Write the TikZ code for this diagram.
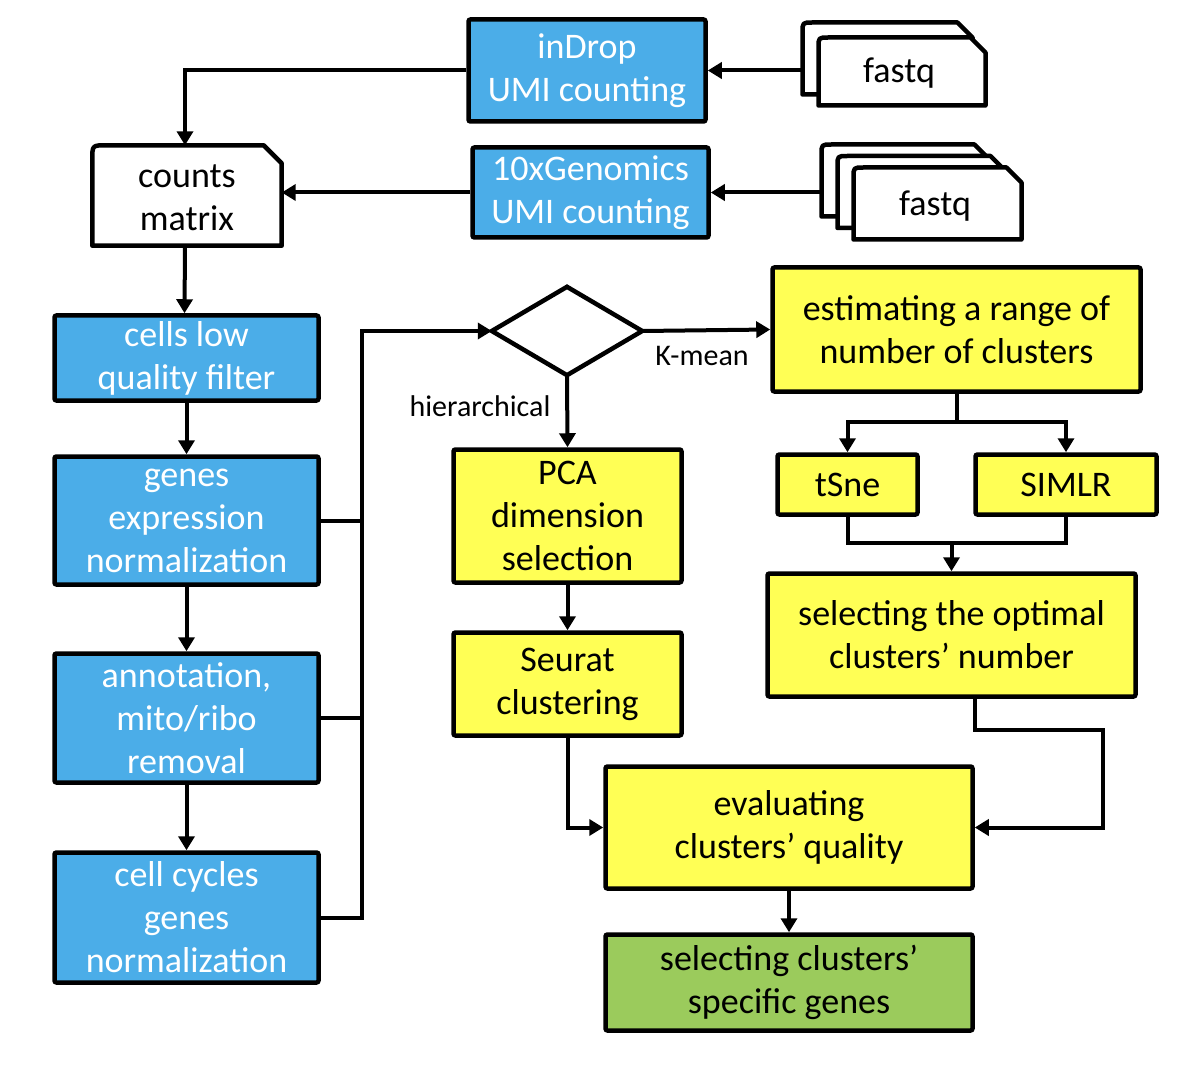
\documentclass[tikz,border=0pt]{standalone}
\usepackage{fontspec}
\setmainfont{Carlito}
\usetikzlibrary{arrows.meta,calc}
\definecolor{myblue}{HTML}{4BADE8}
\definecolor{myyellow}{HTML}{FFFF55}
\definecolor{mygreen}{HTML}{9BCB5C}
\begin{document}
\begin{tikzpicture}[x=1pt,y=-1pt,
  box/.style={draw=black, line width=4.5pt, rounded corners=2pt, inner sep=0pt, align=center,
    font=\fontsize{36}{43}\selectfont},
  bluebox/.style={box, fill=myblue, text=white},
  yelbox/.style={box, fill=myyellow},
  grnbox/.style={box, fill=mygreen},
  ghost/.style={inner sep=0pt, align=center, font=\fontsize{36}{43}\selectfont},
  shapeline/.style={draw=black, fill=white, line width=4.5pt, line join=round},
  conn/.style={draw=black, line width=4pt},
  arr/.style={conn, -{Triangle[length=14pt,width=16pt]}},
  lbl/.style={inner sep=0pt, font=\fontsize{30}{34}\selectfont}
]
\useasboundingbox (0,0) rectangle (1181,1067);

% ---------- cards (fastq) ----------
\newcommand{\card}[4]{% x1 y1 x2 y2 (path centre)
  \path[shapeline] (#1,#4) -- (#1,#2+10) .. controls (#1,#2) .. (#1+10,#2) -- (#3-15,#2) -- (#3,#2+15) -- (#3,#4) -- cycle;}

\card{802.5}{22.5}{972.5}{94.5}
\card{818.5}{37.5}{985.5}{105.5}
\node[ghost, minimum width=170pt, minimum height=72pt] (fq1b) at (887.5,58.5) {};
\node[ghost] (fq1) at (899,73) {fastq};

\card{821.5}{144.5}{989.5}{216.5}
\card{837.5}{156}{1005.5}{228}
\card{853.5}{167.5}{1021.5}{239.5}
\node[ghost, minimum width=168pt, minimum height=72pt] (fq2b) at (905.5,180.5) {};
\node[ghost] (fq2) at (935,206) {fastq};

% ---------- counts matrix ----------
\node[ghost, minimum width=189pt, minimum height=100pt] (cm) at (187,198) {counts\\matrix};
\path[shapeline, fill=none] ($(cm.south west)+(0,-2.5)$) -- ($(cm.north west)+(0,11.5)$) .. controls ($(cm.north west)+(0,-2.5)$) .. ($(cm.north west)+(14,-2.5)$)
  -- ($(cm.north east)+(-18,-2.5)$) -- ($(cm.north east)+(0,15.5)$) -- ($(cm.south east)+(0,-2.5)$) -- cycle;

% ---------- blue boxes ----------
\node[bluebox, minimum width=237pt, minimum height=102pt] (indrop) at (587,70.5) {inDrop\\UMI counting};
\node[bluebox, minimum width=236pt, minimum height=90pt] (tenx) at (590.5,192.5) {10xGenomics\\UMI counting};
\node[bluebox, minimum width=264pt, minimum height=85pt] (cells) at (186.5,358) {cells low\\quality filter};
\node[bluebox, minimum width=264pt, minimum height=128pt] (genes) at (186.5,520.5) {genes\\expression\\normalization};
\node[bluebox, minimum width=264pt, minimum height=129pt] (ann) at (186.5,718) {annotation,\\mito/ribo\\removal};
\node[bluebox, minimum width=264pt, minimum height=130pt] (cc) at (186.5,917.5) {cell cycles\\genes\\normalization};

% ---------- diamond ----------
\node[ghost, minimum width=150pt, minimum height=88pt] (dm) at (567,331) {};
\path[shapeline, fill=none, line join=miter] (dm.west) -- (dm.north) -- (dm.east) -- (dm.south) -- cycle;

% ---------- yellow / green boxes ----------
\node[yelbox, minimum width=368pt, minimum height=124pt] (est) at (956.5,329.5) {estimating a range of\\number of clusters};
\node[yelbox, minimum width=228pt, minimum height=133pt] (pca) at (567.5,516) {PCA\\dimension\\selection};
\node[yelbox, minimum width=228pt, minimum height=103pt] (seu) at (567.5,684) {Seurat\\clustering};
\node[yelbox, minimum width=140pt, minimum height=60pt] (tsne) at (847.5,484.5) {tSne};
\node[yelbox, minimum width=181pt, minimum height=60pt] (simlr) at (1066,484.5) {SIMLR};
\node[yelbox, minimum width=368pt, minimum height=123pt] (opt) at (951.5,635) {selecting the optimal\\clusters’ number};
\node[yelbox, minimum width=367pt, minimum height=122pt] (eval) at (789,827.5) {evaluating\\clusters’ quality};
\node[grnbox, minimum width=367pt, minimum height=96pt] (gene) at (789,982.5) {selecting clusters’\\specific genes};

% ---------- labels ----------
\node[lbl] (klab) at (702,356) {K-mean};
\node[lbl] (hlab) at (480,406) {hierarchical};

% ---------- connectors ----------
\draw[arr] (indrop.east -| fq1b.west) -- (indrop.east);
\draw[arr] (tenx.east -| fq2b.west) -- (tenx.east);
\draw[arr] (indrop.west) -| ($(cm.north)+(-2,-2.5)$);
\draw[arr] (tenx.west) -- (cm.east |- tenx.west);
\draw[arr] ($(cm.south)+(-2,-2.5)$) -- (cells.north -| 184.5,0);
\draw[arr] (cells.south) -- (genes.north);
\draw[arr] (genes.south) -- (ann.north);
\draw[arr] (ann.south) -- (cc.north);

\coordinate (bus) at (362,0);
\draw[conn] (genes.east) -- (genes.east -| bus);
\draw[conn] (ann.east) -- (ann.east -| bus);
\draw[arr, line join=miter] (cc.east) -- (cc.east -| bus) |- (dm.west);

\draw[arr] (dm.east) -- (est.west);
\draw[arr] (dm.south) -- (pca.north);

\coordinate (sp) at (956.5,422);
\draw[conn] (est.south) -- (sp);
\draw[arr, line join=miter] (sp) -| (tsne.north);
\draw[arr, line join=miter] (sp) -| (simlr.north);

\coordinate (mg) at (951.5,543);
\draw[conn, line join=miter] (tsne.south) |- (mg) -| (simlr.south);
\draw[arr] (mg) -- (opt.north);

\draw[arr] (pca.south) -- (seu.north);
\draw[arr, line join=miter] (seu.south) |- (eval.west);

\coordinate (rt) at (1103,730);
\draw[arr, line join=miter] (opt.south -| eval.east) |- (rt) |- (eval.east);

\draw[arr] (eval.south) -- (gene.north);
\end{tikzpicture}
\end{document}
